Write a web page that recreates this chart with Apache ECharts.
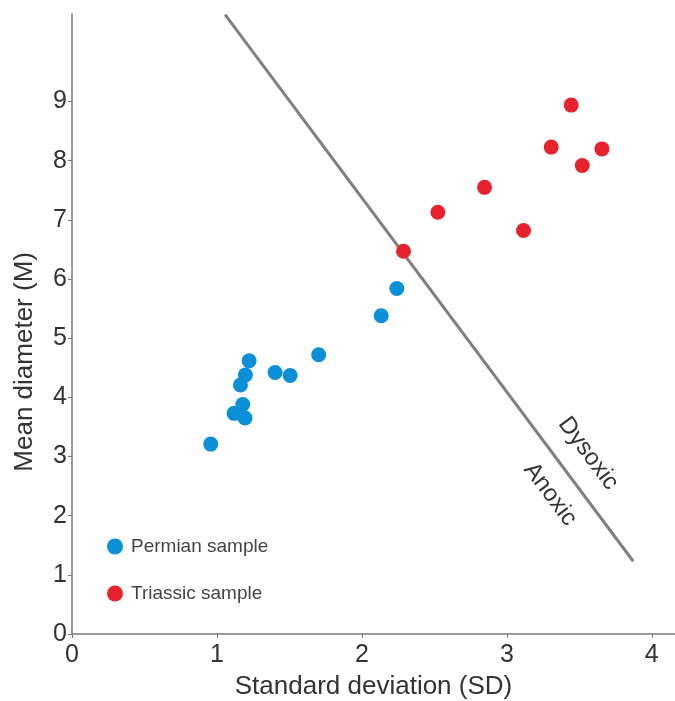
<!DOCTYPE html>
<html>
<head>
<meta charset="utf-8">
<script src="https://cdn.jsdelivr.net/npm/echarts@6/dist/echarts.min.js"></script>
<style>html,body{margin:0;padding:0;background:#fff}#c{width:675px;height:701px}</style>
</head>
<body>
<div id="c"></div>
<script>
const xTicks = [0, 1, 2, 3, 4];
const yTicks = [0, 1, 2, 3, 4, 5, 6, 7, 8, 9];
const permianSD = [0.957, 1.118, 1.194, 1.178, 1.162, 1.196, 1.222, 1.401, 1.505, 1.702, 2.133, 2.241];
const permianM  = [3.21, 3.73, 3.65, 3.88, 4.21, 4.38, 4.62, 4.42, 4.37, 4.72, 5.38, 5.84];
const triassicSD = [2.287, 2.524, 2.846, 3.115, 3.306, 3.444, 3.520, 3.656];
const triassicM  = [6.47, 7.13, 7.55, 6.82, 8.23, 8.94, 7.92, 8.20];
const boundarySD = [1.056, 3.872];
const boundaryM  = [10.47, 1.23];
const annotations = [
  { text: 'Dysoxic', sd: 3.561, m: 3.05 },
  { text: 'Anoxic', sd: 3.299, m: 2.36 }
];
const yTitle = 'Mean diameter (M)';
const xTitle = 'Standard deviation (SD)';

const FONT = '"Liberation Sans", Arial, sans-serif';
const chart = echarts.init(document.getElementById('c'));
const zip = (a, b) => a.map((v, i) => [v, b[i]]);

chart.setOption({
  animation: false,
  grid: { left: 72, right: 0, top: 14, bottom: 67, containLabel: false, outerBoundsMode: 'none' },
  legend: {
    orient: 'vertical', left: 102, top: 532, itemGap: 28, padding: [5, 5, 5, 5],
    icon: 'circle', itemWidth: 16, itemHeight: 16,
    textStyle: { fontFamily: FONT, fontSize: 19, color: '#444', padding: [0, 0, 0, 3] },
    data: ['Permian sample', 'Triassic sample']
  },
  xAxis: {
    type: 'value', min: 0, max: 4.16, interval: 1,
    name: xTitle, nameLocation: 'middle', nameGap: 40,
    nameTextStyle: { fontFamily: FONT, fontSize: 26, color: '#333' },
    axisLine: { show: true, lineStyle: { color: '#7a7a7a', width: 1.5 } },
    axisTick: { show: true, length: 4, customValues: xTicks, lineStyle: { color: '#7a7a7a' } },
    axisLabel: { customValues: xTicks, fontFamily: FONT, fontSize: 25, color: '#333', margin: 9 },
    splitLine: { show: false }
  },
  yAxis: {
    type: 'value', min: 0, max: 10.48, interval: 1,
    axisLine: { show: true, lineStyle: { color: '#7a7a7a', width: 1.5 } },
    axisTick: { show: true, length: 4, customValues: yTicks, lineStyle: { color: '#7a7a7a' } },
    axisLabel: { customValues: yTicks, fontFamily: FONT, fontSize: 25, color: '#333', margin: 5 },
    splitLine: { show: false }
  },
  series: [
    {
      name: 'Boundary', type: 'line', data: zip(boundarySD, boundaryM),
      symbol: 'none', lineStyle: { color: '#808080', width: 3 }, z: 1, silent: true
    },
    {
      name: 'Permian sample', type: 'scatter', data: zip(permianSD, permianM),
      symbolSize: 15, itemStyle: { color: '#0A8FD8', opacity: 1 }, z: 3
    },
    {
      name: 'Triassic sample', type: 'scatter', data: zip(triassicSD, triassicM),
      symbolSize: 15, itemStyle: { color: '#E8222C', opacity: 1 }, z: 3
    }
  ]
});

const p0 = chart.convertToPixel({ gridIndex: 0 }, [boundarySD[0], boundaryM[0]]);
const p1 = chart.convertToPixel({ gridIndex: 0 }, [boundarySD[1], boundaryM[1]]);
const ang = Math.atan2(p1[1] - p0[1], p1[0] - p0[0]);
const titleY = chart.convertToPixel({ gridIndex: 0 }, [0, 4.6])[1];
chart.setOption({
  graphic: annotations.map(a => {
    const p = chart.convertToPixel({ gridIndex: 0 }, [a.sd, a.m]);
    return {
      type: 'text', x: p[0], y: p[1], rotation: -ang,
      style: { text: a.text, fontFamily: FONT, fontSize: 24, fill: '#333', align: 'center', verticalAlign: 'middle' }
    };
  }).concat([{
    type: 'text', x: 25, y: titleY, rotation: Math.PI / 2,
    style: { text: yTitle, fontFamily: FONT, fontSize: 26, fill: '#333', align: 'center', verticalAlign: 'middle' }
  }])
});
</script>
</body>
</html>
